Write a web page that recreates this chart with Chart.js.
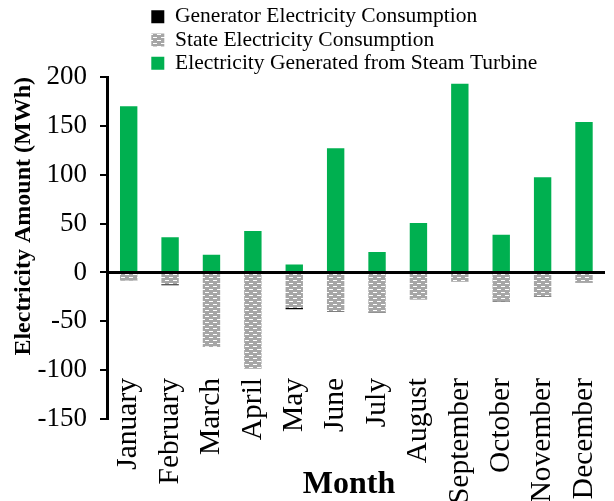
<!DOCTYPE html>
<html>
<head>
<meta charset="utf-8">
<script src="https://cdn.jsdelivr.net/npm/chart.js@4/dist/chart.umd.min.js"></script>
<style>
  html, body { margin: 0; padding: 0; background: #ffffff; }
  canvas { display: block; }
</style>
</head>
<body>
<canvas id="chart" width="614" height="501"></canvas>
<script>
// Monthly electricity balance (MWh)
const months = ['January', 'February', 'March', 'April', 'May', 'June',
                'July', 'August', 'September', 'October', 'November', 'December'];
const generatorUse = [-0.3, -1.2, -0.4, -0.4, -1.2, -0.4, -0.4, -0.4, -0.3, -0.4, -0.3, -0.3];
const stateUse = [-8, -12, -76, -98, -36.5, -39.5, -41, -27, -9, -29.5, -24.5, -10.5];
const steamTurbineOutput = [170, 36, 18, 42.5, 8, 127, 21, 50.5, 193, 38.5, 97.5, 154];
const yMin = -150;
const yMax = 200;
const yStep = 50;

const SERIF = "'Liberation Serif', 'Times New Roman', serif";

// Grey fill with short white dashes for the grid-supplied consumption
function dashedGrey() {
  const tile = document.createElement('canvas');
  tile.width = 8;
  tile.height = 6;
  const g = tile.getContext('2d');
  g.fillStyle = '#a6a6a6';
  g.fillRect(0, 0, 8, 6);
  g.fillStyle = '#ffffff';
  g.fillRect(1, 1, 4, 1);
  g.fillRect(5, 4, 3, 1);
  g.fillRect(0, 4, 1, 1);
  return g.createPattern(tile, 'repeat');
}

// Keeps the legend block above the plot, left-aligned
const legendPlacement = {
  id: 'legendPlacement',
  afterLayout(chart) {
    const lg = chart.legend;
    if (!lg) return;
    const w = lg.width;
    lg.left = 149.5;
    lg.top = 4.2;
    lg.right = lg.left + Math.max(w, 420);
    lg.bottom = lg.top + 120;
  }
};

// Horizontal axis caption
const monthCaption = {
  id: 'monthCaption',
  afterDraw(chart) {
    const ctx = chart.ctx;
    ctx.save();
    ctx.fillStyle = '#000000';
    ctx.font = "bold 32px " + SERIF;
    ctx.textAlign = 'center';
    ctx.textBaseline = 'middle';
    ctx.fillText('Month', 349, 485);
    ctx.restore();
  }
};

new Chart(document.getElementById('chart'), {
  type: 'bar',
  data: {
    labels: months,
    datasets: [
      {
        label: 'Generator Electricity Consumption',
        data: generatorUse,
        backgroundColor: '#000000',
        order: 1
      },
      {
        label: 'State Electricity Consumption',
        data: stateUse,
        backgroundColor: dashedGrey(),
        order: 0
      },
      {
        label: 'Electricity Generated from Steam Turbine',
        data: steamTurbineOutput,
        backgroundColor: '#00b050',
        order: 2
      }
    ]
  },
  options: {
    responsive: false,
    devicePixelRatio: 1,
    animation: false,
    datasets: {
      bar: { barPercentage: 0.42, categoryPercentage: 1.0, borderWidth: 0 }
    },
    layout: { padding: { left: 8.7, top: 77, right: 9.3, bottom: 82 } },
    scales: {
      // month labels, hung below the plot
      x: {
        stacked: true,
        position: { y: -108 },
        grid: { display: false, drawTicks: false },
        border: { display: false },
        ticks: {
          color: '#000000',
          font: { family: SERIF, size: 29.5, lineHeight: 1 },
          padding: 0,
          autoSkip: false,
          minRotation: 90,
          maxRotation: 90
        }
      },
      // zero baseline, drawn over the bars
      xZero: {
        type: 'category',
        labels: months,
        position: { y: 0 },
        grid: { display: false, drawTicks: false },
        ticks: { display: false },
        border: { display: true, color: '#000000', width: 3, z: 1 }
      },
      y: {
        stacked: true,
        min: yMin,
        max: yMax,
        ticks: {
          stepSize: yStep,
          color: '#000000',
          font: { family: SERIF, size: 27 },
          padding: 13
        },
        grid: {
          drawOnChartArea: false,
          color: '#000000',
          tickColor: '#000000',
          lineWidth: 2,
          tickWidth: 2,
          tickLength: 8,
          drawTicks: true
        },
        border: { color: '#000000', width: 3 },
        title: {
          display: true,
          text: 'Electricity Amount (MWh)',
          align: 'end',
          color: '#000000',
          font: { family: SERIF, size: 24, weight: 'bold' },
          padding: { top: 0.9, bottom: -13.9 }
        }
      }
    },
    plugins: {
      tooltip: { enabled: false },
      legend: {
        position: 'chartArea',
        align: 'start',
        labels: {
          color: '#000000',
          font: { family: SERIF, size: 21.5 },
          boxWidth: 13,
          boxHeight: 13,
          padding: 1.8,
          sort: (a, b) => a.datasetIndex - b.datasetIndex
        }
      }
    }
  },
  plugins: [legendPlacement, monthCaption]
});
</script>
</body>
</html>
